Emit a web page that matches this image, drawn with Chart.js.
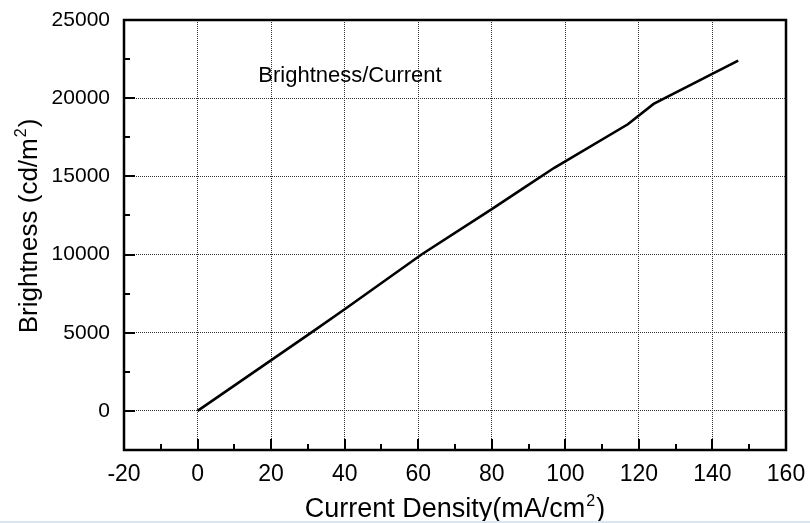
<!DOCTYPE html>
<html>
<head>
<meta charset="utf-8">
<script src="https://cdn.jsdelivr.net/npm/chart.js@4.4.1/dist/chart.umd.min.js"></script>
<style>
  html, body { margin: 0; padding: 0; background: #ffffff; }
  #wrap { position: relative; width: 810px; height: 523px; }
  #strip { position: absolute; left: 0; bottom: 0; width: 810px; height: 2px; background: #d9e6f2; }
</style>
</head>
<body>
<div id="wrap">
  <canvas id="lum" width="810" height="523"></canvas>
  <div id="strip"></div>
</div>
<script>
// Brightness vs. current density curve
var currentDensity = [0, 31, 40, 61, 80, 88, 97, 117, 124, 147];
var brightness     = [0, 5020, 6500, 10020, 12900, 14150, 15550, 18330, 19630, 22400];

var xTickLabels = [-20, 0, 20, 40, 60, 80, 100, 120, 140, 160];
var yTickLabels = [0, 5000, 10000, 15000, 20000, 25000];

var seriesLabel = 'Brightness/Current';
var xTitle = ['Current Density(mA/cm', '2', ')'];
var yTitle = ['Brightness (cd/m', '2', ')'];

var FONT = 'Arial, "Liberation Sans", sans-serif';

function isMajorX(v) { return xTickLabels.indexOf(v) !== -1; }
function isMajorY(v) { return yTickLabels.indexOf(v) !== -1; }

// text with a raised "2"
function drawSupText(ctx, parts, size) {
  var small = Math.round(size * 0.6);
  ctx.font = size + 'px ' + FONT;
  var w0 = ctx.measureText(parts[0]).width;
  var w2 = ctx.measureText(parts[2]).width;
  ctx.font = small + 'px ' + FONT;
  var w1 = ctx.measureText(parts[1]).width;
  var total = w0 + w1 + w2 + 2;
  var x = -total / 2;
  ctx.textAlign = 'left';
  ctx.textBaseline = 'alphabetic';
  ctx.font = size + 'px ' + FONT;
  ctx.fillText(parts[0], x, 0);
  ctx.font = small + 'px ' + FONT;
  ctx.fillText(parts[1], x + w0 + 1, -size * 0.42);
  ctx.font = size + 'px ' + FONT;
  ctx.fillText(parts[2], x + w0 + w1 + 2, 0);
}

var framePlugin = {
  id: 'frame',
  afterDraw: function (chart) {
    var ctx = chart.ctx;
    var a = chart.chartArea;
    var xs = chart.scales.x;
    var ys = chart.scales.y;
    ctx.save();
    ctx.strokeStyle = '#000';

    // inward tick marks on bottom and left axes
    ctx.lineWidth = 2;
    xs.ticks.forEach(function (t) {
      if (t.value <= xs.min || t.value >= xs.max) return;
      var px = Math.round(xs.getPixelForValue(t.value));
      var len = isMajorX(t.value) ? 11 : 6;
      ctx.beginPath();
      ctx.moveTo(px, a.bottom);
      ctx.lineTo(px, a.bottom - len);
      ctx.stroke();
    });
    ys.ticks.forEach(function (t) {
      if (t.value <= ys.min || t.value >= ys.max) return;
      var py = Math.round(ys.getPixelForValue(t.value));
      var len = isMajorY(t.value) ? 11 : 6;
      ctx.beginPath();
      ctx.moveTo(a.left, py);
      ctx.lineTo(a.left + len, py);
      ctx.stroke();
    });

    // plot box
    ctx.lineWidth = 2.5;
    ctx.strokeRect(a.left, a.top, a.right - a.left, a.bottom - a.top);

    // axis titles
    ctx.fillStyle = '#000';
    ctx.save();
    ctx.translate((a.left + a.right) / 2, 517);
    drawSupText(ctx, xTitle, 27);
    ctx.restore();

    ctx.save();
    ctx.translate(37, 226);
    ctx.rotate(-Math.PI / 2);
    drawSupText(ctx, yTitle, 26);
    ctx.restore();

    // series caption
    ctx.font = '22px ' + FONT;
    ctx.textAlign = 'center';
    ctx.textBaseline = 'middle';
    ctx.fillText(seriesLabel, 350, 76);
    ctx.restore();
  }
};

new Chart(document.getElementById('lum'), {
  type: 'line',
  data: {
    datasets: [{
      label: seriesLabel,
      data: currentDensity.map(function (x, i) { return { x: x, y: brightness[i] }; }),
      borderColor: '#000',
      borderWidth: 2.6,
      pointRadius: 0,
      fill: false,
      tension: 0
    }]
  },
  options: {
    responsive: false,
    animation: false,
    layout: { padding: { top: 20, right: 24, left: 0, bottom: 0 } },
    plugins: {
      legend: { display: false },
      tooltip: { enabled: false }
    },
    scales: {
      x: {
        type: 'linear',
        min: -20,
        max: 160,
        afterFit: function (s) {
          s.height = 73;
          s.paddingLeft = 0;
          s.paddingRight = 0;
        },
        ticks: {
          stepSize: 10,
          padding: 11,
          color: '#000',
          font: { family: FONT, size: 23 },
          maxRotation: 0,
          autoSkip: false,
          callback: function (v) { return isMajorX(v) ? String(v) : ''; }
        },
        grid: {
          drawTicks: false,
          lineWidth: 1,
          color: function (c) {
            var v = c.tick && c.tick.value;
            return (isMajorX(v) && v > -20 && v < 160) ? '#333333' : 'rgba(0,0,0,0)';
          }
        },
        border: { display: false, dash: [1, 1] }
      },
      y: {
        type: 'linear',
        min: -2500,
        max: 25000,
        afterFit: function (s) {
          s.width = 124;
          s.paddingTop = 0;
          s.paddingBottom = 0;
        },
        ticks: {
          stepSize: 2500,
          padding: 14,
          color: '#000',
          font: { family: FONT, size: 21 },
          autoSkip: false,
          callback: function (v) { return isMajorY(v) ? String(v) : ''; }
        },
        grid: {
          drawTicks: false,
          lineWidth: 1,
          color: function (c) {
            var v = c.tick && c.tick.value;
            return (isMajorY(v) && v < 25000) ? '#333333' : 'rgba(0,0,0,0)';
          }
        },
        border: { display: false, dash: [1, 1] }
      }
    }
  },
  plugins: [framePlugin]
});
</script>
</body>
</html>
